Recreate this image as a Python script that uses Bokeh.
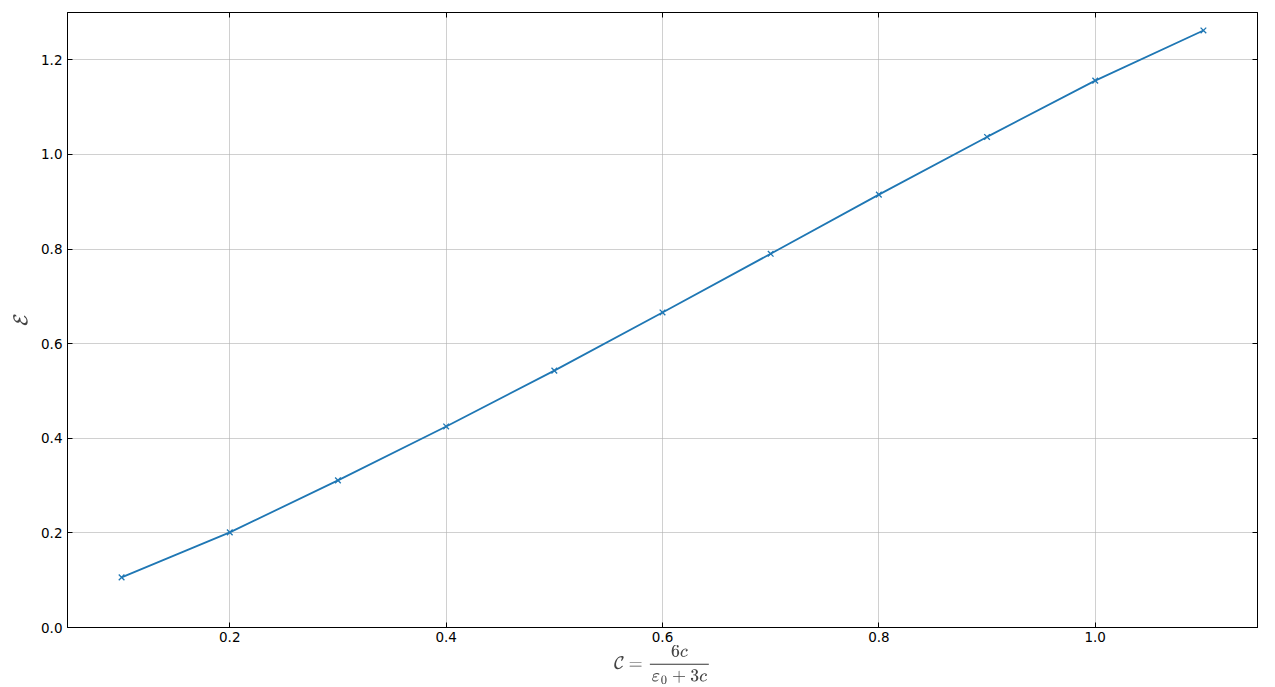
from bokeh.plotting import figure
from bokeh.models import LinearAxis, FixedTicker, PrintfTickFormatter, Range1d, ColumnDataSource, CustomJSTickFormatter
from bokeh.embed import file_html
from bokeh.resources import INLINE

# Data
conc = [0.1, 0.2, 0.3, 0.4, 0.5, 0.6, 0.7, 0.8, 0.9, 1.0, 1.1]
energy = [0.106, 0.201, 0.311, 0.425, 0.543, 0.666, 0.790, 0.915, 1.037, 1.156, 1.262]
x_ticks = [0.2, 0.4, 0.6, 0.8, 1.0]
y_ticks = [0.0, 0.2, 0.4, 0.6, 0.8, 1.0, 1.2]

src = ColumnDataSource(dict(x=conc, y=energy))

p = figure(width=1275, height=687, output_backend="svg", toolbar_location=None,
           x_range=Range1d(0.05, 1.15), y_range=Range1d(0.0, 1.3),
           x_axis_label=r"$$\mathcal{C} = \frac{6c}{\varepsilon_0 + 3c}$$",
           y_axis_label=r"$$\mathcal{E}$$",
           min_border_left=67, min_border_right=18, min_border_top=12, min_border_bottom=60)

p.line("x", "y", source=src, line_color="#1f77b4", line_width=1.8)
p.scatter("x", "y", source=src, marker="x", size=8, line_color="#1f77b4", line_width=1.3)

p.outline_line_color = "black"
p.outline_line_width = 1
p.outline_line_alpha = 1

for ax in (p.xaxis[0], p.yaxis[0]):
    ax.major_tick_in = 5
    ax.major_tick_out = 0
    ax.minor_tick_in = 0
    ax.minor_tick_out = 0
    ax.axis_line_color = "black"
    ax.major_label_text_font = "DejaVu Sans"
    ax.major_label_text_font_size = "13.5px"
    ax.major_label_text_color = "black"
    ax.formatter = PrintfTickFormatter(format="%.1f")
    ax.axis_label_text_font_size = "14px"
    ax.axis_label_text_font_style = "normal"
    ax.major_label_standoff = 4
    ax.axis_label_standoff = 0

p.xaxis[0].ticker = FixedTicker(ticks=x_ticks)
p.yaxis[0].ticker = FixedTicker(ticks=y_ticks)
p.yaxis[0].axis_label_text_font_size = "16px"
p.yaxis[0].major_label_standoff = 5
p.yaxis[0].axis_label_standoff = 8

blank = CustomJSTickFormatter(code="return ''")
top = LinearAxis(ticker=FixedTicker(ticks=x_ticks), formatter=blank,
                 major_tick_in=5, major_tick_out=0, minor_tick_in=0, minor_tick_out=0,
                 axis_line_color="black", major_label_standoff=0)
right = LinearAxis(ticker=FixedTicker(ticks=y_ticks), formatter=blank,
                   major_tick_in=5, major_tick_out=0, minor_tick_in=0, minor_tick_out=0,
                   axis_line_color="black", major_label_standoff=0)
p.add_layout(top, "above")
p.add_layout(right, "right")

p.xgrid.ticker = FixedTicker(ticks=x_ticks)
p.ygrid.ticker = FixedTicker(ticks=y_ticks)
p.grid.grid_line_color = "#b0b0b0"
p.grid.grid_line_alpha = 0.6
p.grid.grid_line_width = 1

open("out.html", "w").write(file_html(p, INLINE))
